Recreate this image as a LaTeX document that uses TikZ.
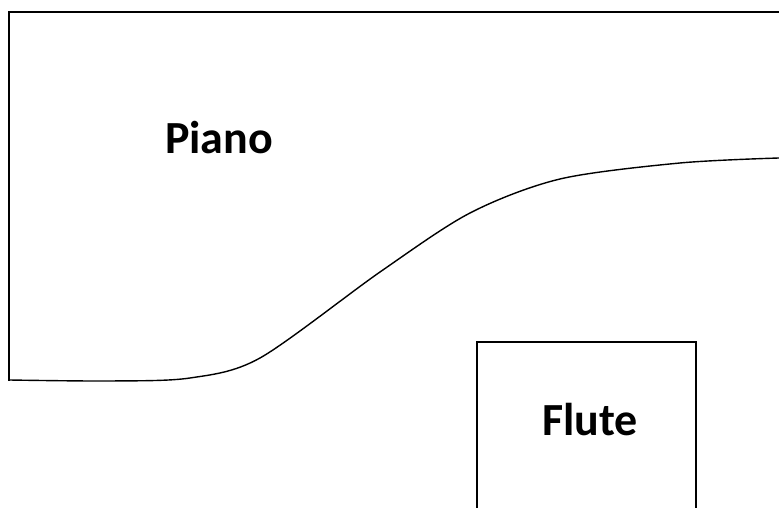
\documentclass[tikz,border=0pt]{standalone}
\usepackage{fontspec}
\setmainfont{Carlito}
\begin{document}
\begin{tikzpicture}[x=1pt,y=1pt]

	%DEFINICIONES
	\tikzstyle{every node}=[font=\bfseries\fontsize{46}{55}\selectfont]
	\tikzstyle{etiqueta} = [align=center, inner sep=0pt, outer sep=0pt, anchor=base]
	\tikzstyle{borde} = [line width=2pt]
	\tikzstyle{curva} = [line width=1.4pt, line join=round]
	\tikzstyle{caja} = [line width=1.4pt]

	\useasboundingbox (0,0) rectangle (779,508);

	%ZONA PIANO
	\draw [borde] (9,127) -- (9,496) -- (779,496);
	\draw [curva] plot[smooth] coordinates {(9,128) (110,127) (190,130) (260,150) (380,236) (470,295) (560,329) (680,345) (779,350)};	%LIMITE

	%ZONA FLAUTA
	\draw [caja] (477,0) -- (477,166) -- (696,166) -- (696,0);

	%TEXTOS
	\draw(219,354) node[etiqueta](piano){Piano};
	\draw(590,72) node[etiqueta](flauta){Flute};
\end{tikzpicture}
\end{document}
